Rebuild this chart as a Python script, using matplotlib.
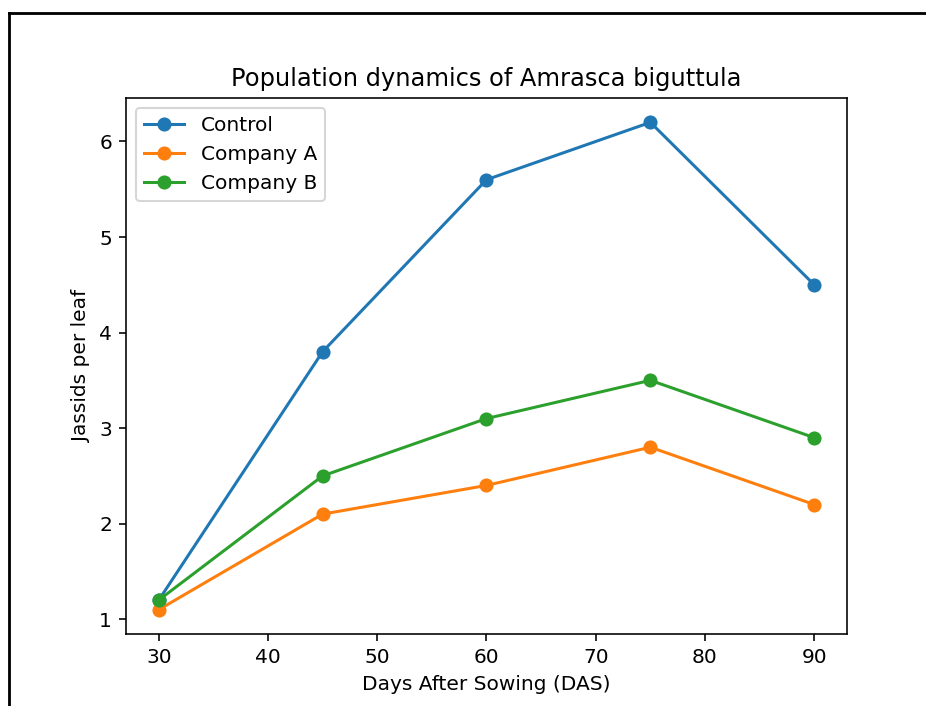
import matplotlib
matplotlib.use("Agg")
import matplotlib.pyplot as plt
from matplotlib.lines import Line2D

# data
days = [30, 45, 60, 75, 90]
control = [1.2, 3.8, 5.6, 6.2, 4.5]
company_a = [1.1, 2.1, 2.4, 2.8, 2.2]
company_b = [1.2, 2.5, 3.1, 3.5, 2.9]

W, H, DPI = 926, 706, 145
fig = plt.figure(figsize=(W / DPI, H / DPI), dpi=DPI)

# axes placed in pixel terms of the screenshot
ax = fig.add_axes([126 / W, (H - 634) / H, 721 / W, 536 / H])
ax.plot(days, control, marker='o', label='Control')
ax.plot(days, company_a, marker='o', label='Company A')
ax.plot(days, company_b, marker='o', label='Company B')

ax.set_title('Population dynamics of Amrasca biguttula')
ax.set_xlabel('Days After Sowing (DAS)')
ax.set_ylabel('Jassids per leaf')
ax.legend(loc='upper left')

# black frame of the screenshot (top and left edges)
fig.add_artist(Line2D([8.5 / W, 1], [1 - 13.5 / H, 1 - 13.5 / H],
                      color='black', lw=1.4, transform=fig.transFigure))
fig.add_artist(Line2D([8.5 / W, 8.5 / W], [0, 1 - 13.5 / H],
                      color='black', lw=1.4, transform=fig.transFigure))

fig.savefig('out.png', dpi=DPI)
